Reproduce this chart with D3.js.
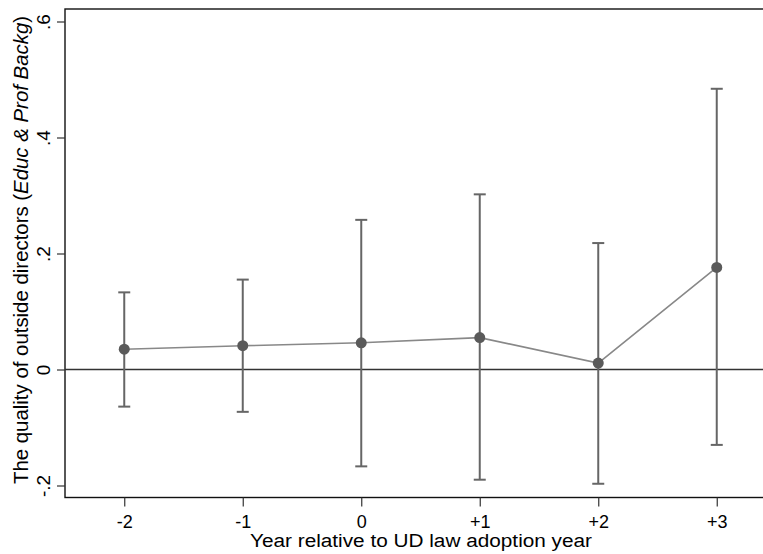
<!DOCTYPE html>
<html>
<head>
<meta charset="utf-8">
<script src="https://cdn.jsdelivr.net/npm/d3@7"></script>
<style>
  html, body { margin: 0; padding: 0; background: #fff; }
  svg { display: block; font-family: "Liberation Sans", Arial, sans-serif; }
</style>
</head>
<body>
<div id="chart"></div>
<script>
// event-time estimates with 95% intervals
var years = ["-2", "-1", "0", "+1", "+2", "+3"];
var coef = [0.035, 0.041, 0.046, 0.055, 0.011, 0.176];
var ciLow = [-0.064, -0.073, -0.167, -0.190, -0.197, -0.130];
var ciHigh = [0.133, 0.155, 0.258, 0.302, 0.218, 0.484];
var yTicks = [-0.2, 0, 0.2, 0.4, 0.6];
var yTickLabels = ["-.2", "0", ".2", ".4", ".6"];

var W = 763, H = 554;
var plotL = 65, plotR = 776, plotT = 9, plotB = 497.5;

var svg = d3.select("#chart").append("svg")
  .attr("width", W)
  .attr("height", H);

var x = d3.scaleLinear().domain([-0.5, 5.5]).range([plotL, plotR]);
var y = d3.scaleLinear().domain([-0.2, 0.6]).range([485.5, 21.5]);

// plot frame
svg.append("rect")
  .attr("x", plotL).attr("y", plotT)
  .attr("width", plotR - plotL).attr("height", plotB - plotT)
  .attr("fill", "none").attr("stroke", "#111").attr("stroke-width", 1.4);

// zero line
svg.append("line")
  .attr("x1", plotL).attr("x2", plotR)
  .attr("y1", y(0)).attr("y2", y(0))
  .attr("stroke", "#333").attr("stroke-width", 1.5);

// y axis
var yAxis = d3.axisLeft(y)
  .tickValues(yTicks)
  .tickSize(8)
  .tickFormat(function (d, i) { return yTickLabels[i]; });
var gy = svg.append("g")
  .attr("transform", "translate(" + plotL + ",0)")
  .call(yAxis);
gy.select(".domain").remove();
gy.selectAll(".tick line").attr("stroke", "#333").attr("stroke-width", 1.2);
gy.selectAll(".tick text")
  .attr("x", null).attr("dy", null)
  .attr("transform", "translate(-15,0) rotate(-90)")
  .attr("text-anchor", "middle")
  .attr("font-size", 19)
  .attr("fill", "#000");

// x axis
var xAxis = d3.axisBottom(x)
  .tickValues(d3.range(years.length))
  .tickSize(9)
  .tickFormat(function (d) { return years[d]; });
var gx = svg.append("g")
  .attr("transform", "translate(0," + plotB + ")")
  .call(xAxis);
gx.select(".domain").remove();
gx.selectAll(".tick line").attr("stroke", "#333").attr("stroke-width", 1.2);
gx.selectAll(".tick text")
  .attr("y", 30.5).attr("dy", null)
  .attr("font-size", 18)
  .attr("fill", "#000");

// axis titles
svg.append("text")
  .attr("x", 421)
  .attr("y", 547)
  .attr("text-anchor", "middle")
  .attr("font-size", 18)
  .attr("textLength", 342)
  .attr("lengthAdjust", "spacingAndGlyphs")
  .text("Year relative to UD law adoption year");

var yt = svg.append("text")
  .attr("transform", "translate(28,250) rotate(-90)")
  .attr("text-anchor", "middle")
  .attr("font-size", 20.4);
yt.append("tspan").text("The quality of outside directors (");
yt.append("tspan").attr("font-style", "italic").text("Educ & Prof Backg");
yt.append("tspan").text(")");

// connecting line
var line = d3.line()
  .x(function (d, i) { return x(i); })
  .y(function (d) { return y(d); });
svg.append("path")
  .datum(coef)
  .attr("d", line)
  .attr("fill", "none")
  .attr("stroke", "#888")
  .attr("stroke-width", 1.6);

// error bars
var bars = svg.append("g").selectAll("g")
  .data(years)
  .join("g")
  .attr("stroke", "#666")
  .attr("stroke-width", 2);
bars.append("line")
  .attr("x1", function (d, i) { return x(i); })
  .attr("x2", function (d, i) { return x(i); })
  .attr("y1", function (d, i) { return y(ciLow[i]); })
  .attr("y2", function (d, i) { return y(ciHigh[i]); });
bars.append("line")
  .attr("x1", function (d, i) { return x(i) - 6; })
  .attr("x2", function (d, i) { return x(i) + 6; })
  .attr("y1", function (d, i) { return y(ciHigh[i]); })
  .attr("y2", function (d, i) { return y(ciHigh[i]); });
bars.append("line")
  .attr("x1", function (d, i) { return x(i) - 6; })
  .attr("x2", function (d, i) { return x(i) + 6; })
  .attr("y1", function (d, i) { return y(ciLow[i]); })
  .attr("y2", function (d, i) { return y(ciLow[i]); });

// point estimates
svg.append("g").selectAll("circle")
  .data(coef)
  .join("circle")
  .attr("cx", function (d, i) { return x(i); })
  .attr("cy", function (d) { return y(d); })
  .attr("r", 5.5)
  .attr("fill", "#5a5a5a");
</script>
</body>
</html>
